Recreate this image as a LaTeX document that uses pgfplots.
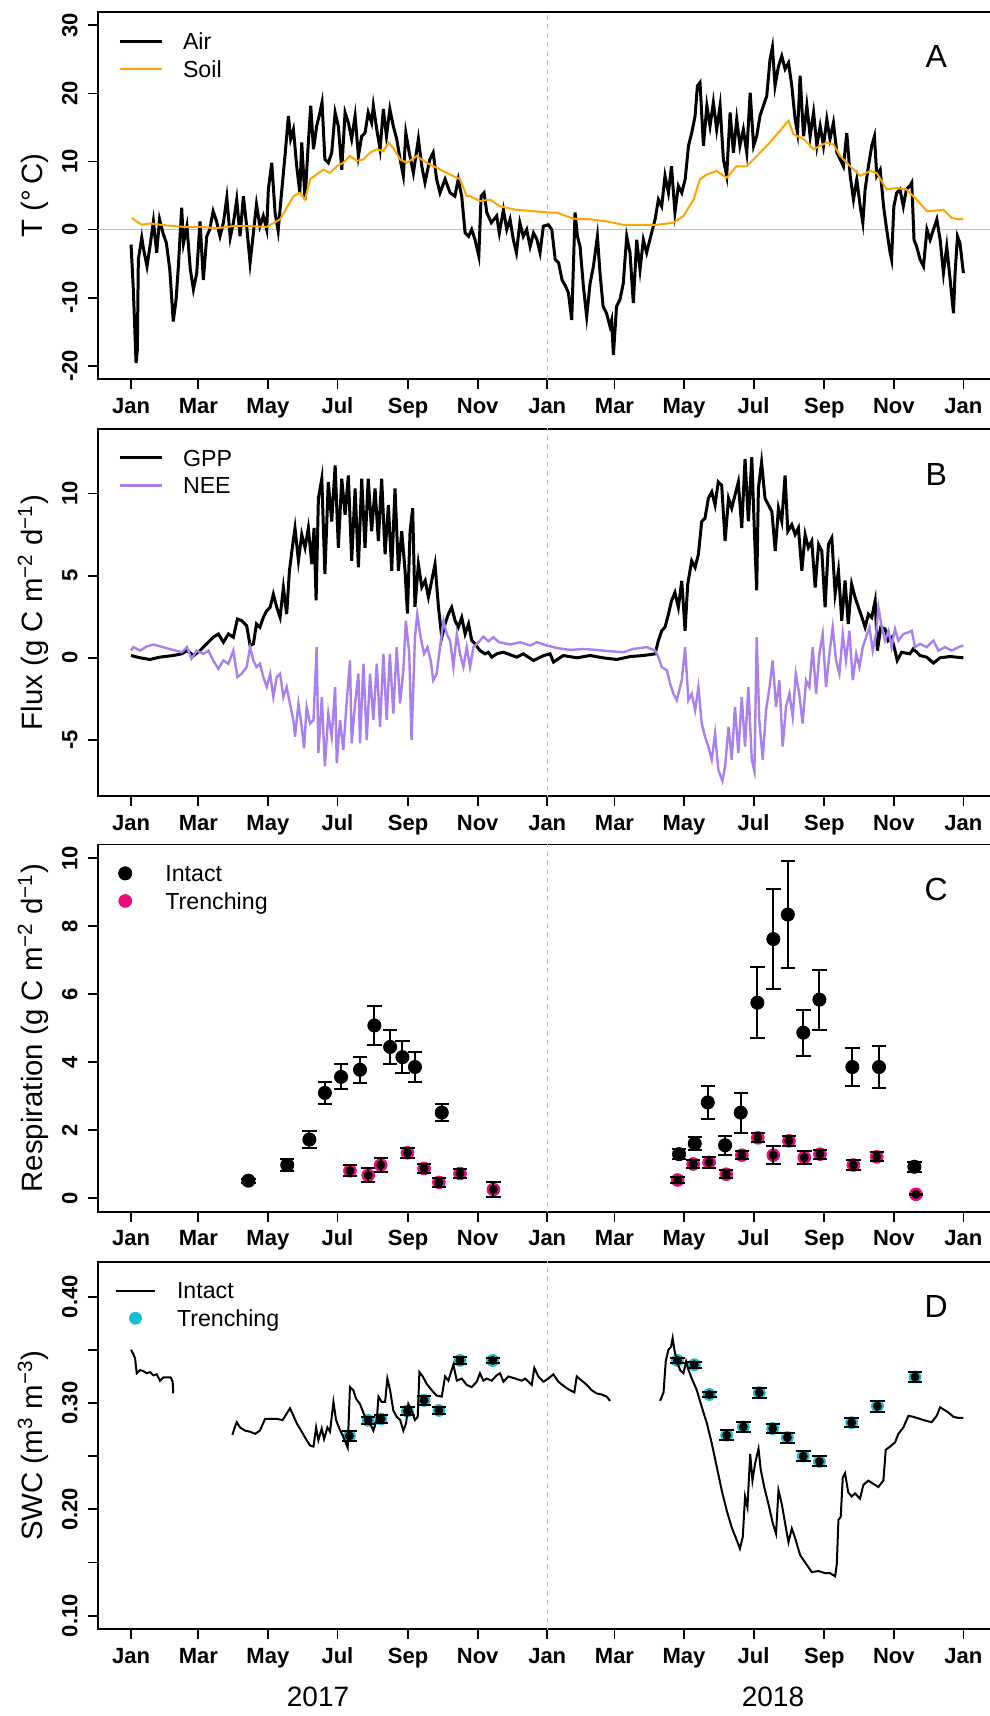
\documentclass[border=0pt]{standalone}
\usepackage{fontspec}
\setmainfont{Liberation Sans}
\usepackage{pgfplots}
\pgfplotsset{compat=1.18}

\definecolor{soilorange}{RGB}{255,165,0}
\definecolor{neepurple}{RGB}{168,128,240}
\definecolor{trpink}{RGB}{232,12,122}
\definecolor{trcyan}{RGB}{23,190,207}
\definecolor{refgrey}{RGB}{190,190,190}

\tikzset{letter/.style={font=\fontsize{16}{18}\selectfont}}

\pgfplotsset{
  panel/.style={
    scale only axis, width=448.85pt, height=183.75pt,
    xmin=-29.16, xmax=758.16,
    clip mode=individual,
    axis line style={line width=0.9pt},
    tick style={black, line width=0.9pt},
    tick align=outside, major tick length=5pt,
    tick pos=left,
    xtick={0,59,120,181,243,304,365,424,485,546,608,669,730},
    xticklabels={Jan,Mar,May,Jul,Sep,Nov,Jan,Mar,May,Jul,Sep,Nov,Jan},
    ticklabel style={font=\fontsize{11}{13}\selectfont\bfseries, inner sep=0pt},
    xticklabel style={anchor=base},
    xticklabel shift=12pt,
    yticklabel style={rotate=90, anchor=base},
    yticklabel shift=5.15pt,
    every axis y label/.style={at={(axis description cs:-0.0616,0.5)}, rotate=90, anchor=base, font=\fontsize{14.7}{17}\selectfont},
    legend cell align=left,
    legend style={at={(rel axis cs:0,1)}, anchor=north west, draw=none, fill=none,
      inner sep=0pt, outer sep=0pt, row sep=5.5pt,
      font=\fontsize{11.6}{13}\selectfont,
      nodes={inner sep=0pt, text height=8.3pt, text depth=0pt}},
  },
  linelegend/.style={legend image code/.code={\draw[##1] (0pt,0pt) -- (21pt,0pt);}},
  dotlegend/.style={legend image code/.code={\draw[##1] plot coordinates {(0pt,0pt)};}},
  shortlinelegend/.style={legend image code/.code={\draw[##1] (0pt,0pt) -- (19.5pt,0pt);}},
  middotlegend/.style={legend image code/.code={\draw[##1] plot coordinates {(9.75pt,0pt)};}},
  errs/.style={only marks, mark=none, forget plot,
    error bars/.cd, y dir=both, y explicit,
    error bar style={black, line width=1pt},
    error mark options={rotate=90, black, line width=1pt, mark size=3.6pt}},
}

\begin{document}
\begin{tikzpicture}
\useasboundingbox (0,0) rectangle (494.5pt,858pt);

% ---------------- A: temperature
\begin{axis}[panel, at={(48.9pt,668.35pt)}, anchor=south west,
  ymin=-22, ymax=32, ytick={-20,-10,0,10,20,30}, yticklabels={-20,-10,0,10,20,30},
  ylabel={T (°\,C)},
  legend style={xshift=10.1pt, yshift=-10.8pt, /tikz/column sep=10pt}]
\addplot[refgrey, line width=0.7pt, forget plot] coordinates {(-40,0) (770,0)};
\addplot[refgrey, line width=0.6pt, dash pattern=on 2.5pt off 2pt, forget plot] coordinates {(365,-30) (365,40)};
\addplot[black, line width=1.5pt, linelegend] coordinates {
(0,-2.2)(2,-8.8)(4.4,-19.6)(5.5,-17.7)(6.4,-4.4)(9.4,-1.2)(11,-2.9)(14,-5.4)(17,-2)(19.6,1.2)(22.5,-3.4)(25,1.5)(28,-0.5)(31,-2)(34,-5.9)(37,-13.5)(39.5,-10.3)(41.5,-5.4)(44.4,3.2)(46,-2)(49,0.5)(52,-5.9)(54.7,-8.8)(57.6,-6.4)(60.5,1.2)(63.4,-7.4)(66.4,-1)(69,0)(72,2.7)(75,1.2)(78,-1)(81,1)(84,4.7)(87,-1.2)(90,1.2)(92.7,4.4)(95.6,-1)(98.5,4.9)(101.4,0.5)(104.4,-4.9)(107.3,-0.5)(110,3.7)(113,0.5)(116,2)(119,0)(120.4,5.9)(123.4,9.8)(126.3,2.5)(129,-0.2)(132,5.4)(135,10.8)(138,16.7)(140,13.3)(142.4,14.7)(145.3,9.3)(148,5.4)(149.7,12.8)(152.6,4.4)(155.5,12.8)(157.6,18.2)(160,11.8)(162.8,15.2)(165,16.7)(167.5,18.7)(170,10.3)(173,9.8)(176,11.3)(179,17.2)(181.8,15.2)(184.8,8.8)(187.7,17.2)(190.6,15.7)(193.5,13.3)(196.5,16.7)(199.4,10.8)(202.3,13.7)(205.2,14.2)(208,17.2)(211,15.7)(212.5,18.2)(215.5,14.7)(218.4,11.8)(221.3,17.7)(224,13.7)(227,17.7)(230,15.2)(233,13.3)(236,10.3)(238.8,7.9)(241,14.2)(244,11.3)(247.6,8.3)(252,13.3)(255,9.3)(257.8,6.9)(262,10.3)(265,11.3)(268,7.4)(271,5.4)(275.4,7.4)(279.8,5.4)(284,4.9)(287,7.4)(290,4.9)(293,-0.5)(296,-1)(298.8,0)(301.7,-1.5)(305,-3.9)(307,4.9)(309.6,5.4)(312,2.5)(316,1)(320.7,2)(323,-0.5)(326.6,2.9)(329.5,0)(332.4,1.5)(335.3,-1.5)(338,-3.4)(341,1)(344,-1)(347,0)(350,-2.5)(353,-0.5)(356,-1.5)(358.7,-3.4)(361.6,0.5)(366,0.7)(369,0)(372,-4.4)(375,-4.9)(378,-7.4)(381,-8.3)(383.6,-9.3)(386.5,-13.3)(389.4,2.5)(391.5,-1)(393.8,-2.5)(396.7,-8.3)(399.6,-12.8)(402.6,-7.9)(405.5,-5.4)(409,-1)(411.3,-6.4)(414,-11.3)(417,-12.3)(420,-14.2)(421.5,-13.3)(423,-18.4)(424,-16)(425.8,-11.3)(428.8,-10.3)(431.7,-7.9)(434.7,-1)(437.6,-3.4)(440.5,-10.8)(443.5,-1.5)(446.4,-5.9)(449.3,-1.5)(452.2,-3.4)(455,-1.5)(459.6,1.5)(462.5,4.4)(465.4,3.4)(468.3,7.9)(471.3,5.4)(474,9.3)(477,2.5)(480,6.4)(483,5.4)(486,7.4)(488.9,12.3)(491.7,14.2)(494.7,16.7)(496.7,21.1)(499,21.6)(502,12.3)(505,18.2)(507.8,15.2)(510.7,18.7)(513.6,14.7)(516.6,18.2)(519.5,10.3)(522.4,7.9)(525.4,17.2)(528.3,11.3)(531.2,16.2)(534,12.3)(537,14.7)(540,11.3)(543,20.1)(546,12.3)(548.7,13.7)(551.6,16.7)(554.6,18.2)(557.5,19.6)(560.4,25)(562.5,26.8)(564.8,21.1)(567.8,24)(570.7,25.5)(573.6,23.6)(576.6,24.5)(579.5,21.1)(582.4,16.2)(584.5,14.2)(586.8,22.6)(589.8,13.7)(592.7,18.2)(595.6,13.7)(598.6,17.2)(601.5,12.3)(604.4,15.2)(607.3,12.3)(610.2,16.2)(613,13.3)(616,15.7)(619,11.3)(622,10.3)(624.8,9.3)(627.7,14.2)(630.7,7.9)(633.6,4.4)(636.5,7.4)(639.5,3.4)(641.8,1)(643.8,5.9)(646.7,9.3)(649.6,12.3)(652,13.7)(654,7.9)(657,8.8)(660,3.4)(662.7,0)(665.7,-3.4)(667,-4.4)(669,3.4)(671.5,5.4)(674.4,5.9)(677.3,3.4)(680,5.9)(683,6.4)(684.7,6.9)(686.7,-1.5)(689,-2.5)(692,-4.4)(695,-5.4)(698,0)(700.8,-1.5)(703.7,0)(706.7,1.5)(709.6,-1.5)(712.5,-6.4)(715.4,-2.5)(718.4,-7.4)(721.3,-12.3)(722.7,-6.4)(724.8,-1)(727,-2)(730,-6.4)
};
\addlegendentry{Air}
\addplot[soilorange, line width=1pt, linelegend] coordinates {
(0.6,1.7)(5,1.2)(9.4,0.7)(16.7,0.9)(31,0.6)(46,0.4)(60.5,0.4)(75,0.2)(90,0.5)(104,0.5)(119,0.4)(130.7,1.5)(136.5,3.2)(142.4,4.9)(148,5.4)(152.6,4.4)(157,7.4)(162.8,8.1)(168.7,8.8)(174.5,8.3)(180.4,9.3)(186,9.8)(192,10.8)(198,10.1)(203.8,10.3)(209.6,11.3)(215.5,11.8)(221.3,11.5)(225.7,12.8)(230,12)(236,10.3)(241.8,9.8)(250.5,10.8)(259.3,9.8)(268,9.1)(276.9,8.3)(288.5,7.4)(294.4,4.9)(297.3,4.9)(306,4.2)(315,4.4)(323.6,3.4)(338,2.9)(353,2.7)(367.5,2.5)(373,2.5)(388,1.6)(402.6,1.5)(417,1.2)(431.7,0.7)(446.4,0.7)(461,0.7)(475.7,1)(484.5,2)(493.3,4.4)(499,7.4)(505,8.1)(513.6,8.6)(522.4,7.6)(531,9.3)(540,9.3)(546,10.3)(551.6,11.3)(560.4,12.8)(569,14.5)(576.6,16)(581,14)(589.8,13.3)(598.6,11.8)(604.4,12.3)(610,12.8)(616,12.5)(622,10.8)(630.7,9.3)(639.5,7.9)(648.2,8.6)(654,8.3)(662.7,5.9)(671.5,6.1)(680,5.9)(689,4.4)(698,2.7)(706.7,2.8)(712.5,2.9)(719.9,1.7)(725.7,1.5)(730,1.6)
};
\addlegendentry{Soil}
\node[letter] at (rel axis cs:0.934,0.877) {A};
\end{axis}

% ---------------- B: fluxes
\begin{axis}[panel, at={(48.9pt,459.8pt)}, anchor=south west,
  ymin=-8.43, ymax=13.93, ytick={-5,0,5,10}, yticklabels={-5,0,5,10},
  ylabel={Flux (g C m\textsuperscript{−2} d\textsuperscript{−1})},
  legend style={xshift=10.1pt, yshift=-10.3pt, /tikz/column sep=10pt}]
\addplot[refgrey, line width=0.6pt, dash pattern=on 2.5pt off 2pt, forget plot] coordinates {(365,-30) (365,40)};
\addplot[black, line width=1.5pt, linelegend] coordinates {
(0,0.14)(8,0)(16.7,-0.1)(25,0.04)(37,0.14)(44.4,0.24)(49,0.44)(55,0.14)(60.5,0.44)(66.4,0.85)(72,1.25)(76.6,1.45)(81,0.95)(85.4,1.45)(89.7,1.25)(93.3,2.36)(97,2.26)(101.4,1.96)(104.4,0.75)(107.3,0.85)(110,2.06)(113,1.86)(116,2.46)(119,2.87)(122,3.07)(124.8,3.87)(127.8,3.07)(130.7,2.46)(133.6,4.28)(136.5,2.66)(138.9,5.29)(141.8,6.9)(143.8,7.9)(146.8,5.9)(149.7,7.5)(152.6,6.7)(155.5,7.9)(158.5,5.7)(160.5,7.9)(162.3,3.5)(164.3,9.7)(167.3,10.9)(170,5.1)(173,10.7)(176,8.3)(179,11.7)(181.8,6.7)(184.8,10.9)(187.7,8.7)(190.6,11.1)(193.5,5.9)(196.5,10.3)(199.4,5.5)(202.3,10.9)(205.2,6.7)(208,10.9)(211,7.7)(214,10.3)(216.9,7.1)(219.8,10.9)(222.8,6.3)(225.7,9.3)(228.6,5.3)(231.5,10.3)(234.5,5.3)(237.4,7.7)(240.3,5.3)(242.4,2.7)(244.7,7.7)(247,9.1)(249,3.1)(252,5.7)(255,4.3)(258,4.7)(260.8,3.7)(263.7,4.7)(266.6,5.7)(269.6,3.1)(272.5,1.25)(275.4,2.06)(278.3,2.66)(281.2,3.07)(284.2,2.26)(287,1.86)(290,2.46)(293,1.45)(296,2.06)(298.8,1.05)(301.7,0.85)(306,0.44)(310.5,0.24)(313.4,0.34)(316.3,0.04)(320.7,0.24)(322.7,0.28)(326.6,0.34)(338.3,0.04)(344,0.24)(353,-0.16)(362,0.14)(367.5,0.24)(370.5,-0.26)(379,0.14)(391,0)(402.6,0.14)(414,0)(426,-0.1)(438,0.08)(449.3,0.14)(459.6,0.24)(462.5,1.05)(465.4,1.65)(468.3,1.86)(471.3,2.66)(474,3.47)(477,3.97)(480,3.07)(483,4.68)(485.9,1.65)(488.2,4.48)(491.7,5.9)(494.7,5.5)(497.6,6.3)(500.5,8.3)(503.4,8.5)(506.3,9.7)(509.3,10.1)(512.2,9.3)(515,10.7)(518,10.5)(521,7.1)(524,9.7)(526.8,9.1)(529.7,9.9)(532.6,10.7)(535.6,7.9)(538.5,12.1)(541.4,8.3)(544.4,12.2)(546.7,7.7)(548.7,4.1)(550.2,10.3)(553,11.9)(556,9.7)(559,9.3)(562,8.9)(565,6.5)(567.8,9.1)(570.7,8.3)(573.6,11.1)(576,7.7)(579.5,8.1)(582.4,7.5)(585.3,7.9)(588.3,5.3)(591.2,7.5)(594,6.7)(597,7.1)(600,4.28)(603,6.9)(605.8,6.5)(608.7,3.07)(611.6,6.9)(614.6,7.3)(617.5,3.9)(620.4,5.3)(623.3,2.26)(626.2,4.7)(629,2.06)(632,4.48)(635,3.67)(638,3.07)(641,2.46)(643.8,1.86)(646.7,2.66)(649.6,2.46)(652.6,3.47)(654.6,0.44)(657.5,1.86)(661.3,1.76)(664,1.05)(667,1.25)(670,0.44)(672,-0.16)(675.8,0.34)(683,0.24)(686,0.54)(692,0.14)(697.8,0.04)(703.7,-0.32)(709.5,0)(718.3,0.08)(730,0)
};
\addlegendentry{GPP}
\addplot[neepurple, line width=1.2pt, linelegend] coordinates {
(0,0.44)(2,0.65)(8,0.44)(13.7,0.69)(19.6,0.81)(28,0.65)(37,0.48)(44.4,0.34)(49,0.65)(53,-0.06)(57.6,0.44)(63.4,0.24)(67.8,0.44)(72,-0.16)(76.6,-0.67)(81,-0.16)(85.4,-0.36)(89.7,0.44)(93.3,-1.17)(97,-0.97)(101.4,-0.56)(104.4,0.65)(107.3,-0.16)(110,-0.56)(113,-0.36)(116,-1.17)(119,-1.78)(122,-0.97)(124.8,-2.38)(127.8,-1.17)(130.7,-0.97)(133.6,-2.38)(136.5,-1.78)(139.3,-2.78)(142.4,-3.79)(143.8,-4.8)(146.8,-2.78)(149.7,-4.2)(151.7,-5.5)(154,-2.99)(157,-4)(160,-3.79)(162.8,0.65)(164.3,-5.8)(167.3,-2.38)(170,-6.6)(173,-3.39)(176,-4.8)(179,-1.78)(180.4,-6.4)(183.3,-3.79)(186.2,-5.6)(189,-2.78)(192,-0.16)(193.5,-5.2)(196.5,-2.78)(199.4,-0.97)(200.8,-5.2)(203.8,-0.36)(206.7,-5)(209.6,-0.97)(212.5,-3.79)(215.5,-0.36)(218.4,-4.2)(221.3,0.24)(224.2,-3.79)(227,0.24)(230,-3.39)(233,0.65)(235.9,-2.78)(238.8,-0.77)(241,2.26)(244,0.24)(246,-5)(249,1.25)(251,2.66)(254,1.25)(257,0.24)(260,0.65)(262.8,-0.16)(265,-1.37)(268,-0.97)(271,0.65)(274,2.26)(276.9,1.45)(279.8,1.05)(282.7,-0.56)(285.7,1.45)(288.5,0.24)(291.5,-0.56)(294.4,0.65)(297.3,-0.56)(300.3,0.65)(304.7,0.95)(309,1.29)(313.4,1.01)(317.8,1.25)(322.7,0.95)(332.5,0.81)(341.3,0.95)(350,0.75)(356,0.95)(364.6,0.75)(373.3,0.6)(385,0.48)(396.7,0.54)(408.4,0.48)(420,0.4)(431.7,0.34)(440.5,0.54)(452.3,0.65)(459.6,0.44)(462.5,0.04)(465.4,-0.56)(470,-0.77)(472.8,-1.57)(475.6,-2.18)(478.6,-2.58)(483,-1.37)(485.9,0.65)(488.8,-2.58)(491.7,-2.18)(494.7,-3.19)(497.6,-1.78)(500.5,-4)(503.4,-4.8)(506.3,-5.4)(509.3,-6.2)(512.2,-4.6)(515,-6.8)(518.6,-7.5)(521,-6.6)(524,-4.2)(526.8,-6.2)(529.7,-2.99)(532.6,-5.8)(535.6,-2.38)(538.5,-5.4)(541.4,-1.78)(544.4,-6.2)(546.7,-6.9)(548.7,1.25)(551,-3.79)(554,-6.2)(556.9,-3.19)(560,-1.78)(562.7,-0.16)(565.7,-2.99)(568.6,-1.37)(571.5,-5.4)(574.4,-2.99)(577.4,-2.18)(580.3,-3.6)(583,-0.97)(586,-2.18)(589,-4)(592,-1.37)(594.9,-1.78)(597.8,0.65)(600.8,-2.18)(603.7,0.24)(606.6,1.45)(609.5,-1.78)(612.5,0.24)(615.4,1.86)(618.3,-0.16)(621.2,-0.97)(624.2,1.45)(627,-0.16)(630,1.65)(633,-1.37)(636,0.24)(638.8,-0.56)(641.7,0.65)(644.6,1.25)(647.6,1.86)(650.5,0.44)(653.4,1.45)(655.5,3.07)(658.4,1.86)(661.3,1.05)(664.3,1.65)(667,0.65)(670,1.76)(673,1.05)(677.3,1.45)(681.7,1.55)(684.7,1.65)(687.6,0.65)(692,0.85)(697.8,0.65)(703.7,1.05)(708,0.44)(714,0.65)(719.8,0.44)(725.7,0.65)(730,0.75)
};
\addlegendentry{NEE}
\node[letter] at (rel axis cs:0.934,0.877) {B};
\end{axis}

% ---------------- C: respiration
\begin{axis}[panel, at={(48.9pt,252pt)}, anchor=south west,
  ymin=-0.4, ymax=10.4, ytick={0,2,4,6,8,10}, yticklabels={0,2,4,6,8,10},
  ylabel={Respiration (g C m\textsuperscript{−2} d\textsuperscript{−1})},
  legend style={xshift=10.4pt, yshift=-10.3pt, /tikz/column sep=16.8pt}]
\addplot[refgrey, line width=0.6pt, dash pattern=on 2.5pt off 2pt, forget plot] coordinates {(365,-5) (365,20)};
\addplot[only marks, mark=*, mark size=3.3pt, black, dotlegend] coordinates {
(102.9,0.52)(137,0.98)(156.4,1.73)(170,3.10)(184.2,3.57)(200.8,3.78)(213.4,5.08)(227.2,4.45)(238,4.15)(249,3.86)(272.5,2.52)
(480.6,1.30)(494.4,1.61)(505.8,2.82)(521,1.56)(534.7,2.52)(549.3,5.75)(563.3,7.62)(576,8.34)(589.6,4.87)(603.7,5.84)(632.6,3.86)(656,3.86)(687,0.93)
};
\addlegendentry{Intact}
\addplot[only marks, mark=*, mark size=3.2pt, trpink, dotlegend] coordinates {
(192,0.81)(208,0.68)(219,0.98)(242.4,1.34)(257,0.88)(270,0.47)(288.5,0.73)(317.8,0.26)
(479.4,0.54)(493,1.01)(507,1.06)(522,0.71)(535.7,1.27)(549.7,1.78)(563.3,1.27)(577,1.69)(590.5,1.20)(604.2,1.30)(633.5,0.98)(654,1.22)(688.4,0.12)
};
\addlegendentry{Trenching}
\addplot[errs] coordinates {
(102.9,0.52) +- (0,0.06) (137,0.98) +- (0,0.17) (156.4,1.73) +- (0,0.25) (170,3.10) +- (0,0.32)
(184.2,3.57) +- (0,0.37) (200.8,3.78) +- (0,0.38) (213.4,5.08) +- (0,0.57) (227.2,4.45) +- (0,0.51)
(238,4.15) +- (0,0.47) (249,3.86) +- (0,0.44) (272.5,2.52) +- (0,0.24)
(480.6,1.30) +- (0,0.15) (494.4,1.61) +- (0,0.20) (505.8,2.82) +- (0,0.49) (521,1.56) +- (0,0.28)
(534.7,2.52) +- (0,0.59) (549.3,5.75) +- (0,1.05) (563.3,7.62) +- (0,1.46) (576,8.34) +- (0,1.57)
(589.6,4.87) +- (0,0.68) (603.7,5.84) +- (0,0.88) (632.6,3.86) +- (0,0.57) (656,3.86) +- (0,0.63)
(687,0.93) +- (0,0.15)
};
\addplot[errs] coordinates {
(192,0.81) +- (0,0.16) (208,0.68) +- (0,0.21) (219,0.98) +- (0,0.21) (242.4,1.34) +- (0,0.15)
(257,0.88) +- (0,0.14) (270,0.47) +- (0,0.13) (288.5,0.73) +- (0,0.13) (317.8,0.26) +- (0,0.22)
(479.4,0.54) +- (0,0.09) (493,1.01) +- (0,0.12) (507,1.06) +- (0,0.17) (522,0.71) +- (0,0.11)
(535.7,1.27) +- (0,0.12) (549.7,1.78) +- (0,0.13) (563.3,1.27) +- (0,0.26) (577,1.69) +- (0,0.15)
(590.5,1.20) +- (0,0.19) (604.2,1.30) +- (0,0.13) (633.5,0.98) +- (0,0.14) (654,1.22) +- (0,0.13)
(688.4,0.12) +- (0,0.02)
};
\node[letter] at (rel axis cs:0.934,0.877) {C};
\end{axis}

% ---------------- D: soil water content
\begin{axis}[panel, at={(48.9pt,43.35pt)}, anchor=south west,
  ymin=0.0872, ymax=0.4328, ytick={0.10,0.15,0.20,0.25,0.30,0.35,0.40}, yticklabels={0.10,,0.20,,0.30,,0.40},
  ylabel={SWC (m\textsuperscript{3} m\textsuperscript{−3})},
  legend style={xshift=8.6pt, yshift=-10.3pt, /tikz/column sep=10.5pt}]
\addplot[refgrey, line width=0.6pt, dash pattern=on 2.5pt off 2pt, forget plot] coordinates {(365,0) (365,1)};
\addplot[black, line width=1pt, shortlinelegend] coordinates {
(0,0.350)(2,0.346)(3.5,0.342)(5,0.328)(8,0.331)(10.8,0.330)(13.7,0.328)(16.7,0.329)(19.6,0.326)(22.5,0.327)(25.4,0.321)(28.4,0.324)(31.3,0.324)(34.8,0.324)(36.5,0.320)(37,0.309)
};
\addlegendentry{Intact}
\addplot[only marks, mark=*, mark size=3pt, trcyan, middotlegend] coordinates {
(191.5,0.269)(208,0.2837)(219.3,0.285)(242.4,0.2925)(257,0.3025)(270,0.293)(288.5,0.340)(317.2,0.340)
(479.2,0.340)(494,0.336)(507.2,0.308)(522.4,0.2697)(537,0.2775)(551,0.3097)(562.8,0.276)(575.6,0.2675)(589.6,0.250)(603.7,0.245)(632,0.2815)(654.6,0.297)(687.6,0.3245)
};
\addlegendentry{Trenching}
\addplot[black, line width=1pt, forget plot] coordinates {
(88.9,0.270)(90.6,0.276)(92.7,0.282)(95.6,0.277)(100,0.274)(104.4,0.273)(108.8,0.271)(113,0.274)(117.5,0.285)(122,0.285)(127.8,0.285)(133,0.284)(136.5,0.290)(139.4,0.295)(142.4,0.288)(145.3,0.281)(149.7,0.273)(154,0.265)(157,0.260)(160,0.259)(162.3,0.277)(164.3,0.265)(167.2,0.276)(169.3,0.266)(172.2,0.277)(174.5,0.273)(177.5,0.301)(179.8,0.284)(182.7,0.276)(186.2,0.268)(190,0.258)(192,0.315)(195,0.312)(197.3,0.304)(200.8,0.299)(205.2,0.287)(209.6,0.281)(212.5,0.274)(215.5,0.284)(217,0.306)(219.8,0.301)(222.8,0.301)(224.8,0.323)(227.2,0.312)(230,0.293)(233,0.287)(236,0.284)(238.8,0.274)(241.2,0.281)(243.2,0.299)(246,0.293)(249,0.284)(251.4,0.287)(252.9,0.329)(255.8,0.325)(259.3,0.318)(263.7,0.312)(268,0.307)(272.5,0.306)(275.4,0.325)(278.3,0.321)(281.2,0.331)(282.7,0.336)(285.7,0.321)(290,0.323)(294.4,0.317)(298.8,0.315)(303.2,0.320)(306,0.328)(309,0.321)(312,0.323)(316.3,0.321)(320.7,0.326)(323.6,0.328)(326.6,0.320)(331,0.325)(336.8,0.323)(342.7,0.321)(345.6,0.323)(351.4,0.317)(353.7,0.333)(357.2,0.325)(361.6,0.320)(366,0.323)(370.4,0.327)(374.8,0.320)(380.6,0.315)(385,0.312)(388.8,0.310)(390.9,0.325)(395.3,0.321)(399.7,0.317)(404,0.312)(408.4,0.309)(412.8,0.308)(417.2,0.306)(420.1,0.302)
};
\addplot[black, line width=1pt, forget plot] coordinates {
(464,0.302)(467,0.310)(469,0.340)(471.3,0.350)(473.6,0.353)(475,0.361)(476.5,0.350)(478.6,0.340)(481.5,0.331)(484.5,0.328)(486.8,0.339)(488.9,0.331)(491.8,0.323)(496.2,0.312)(500.6,0.296)(505,0.281)(509.3,0.262)(513.7,0.240)(518,0.218)(522.4,0.199)(526.8,0.183)(531.2,0.171)(534,0.163)(536.5,0.174)(538.5,0.212)(540.6,0.202)(543,0.252)(545,0.227)(547.3,0.243)(550.3,0.257)(552.3,0.237)(555.3,0.221)(559,0.205)(562.8,0.187)(565.7,0.177)(567.8,0.218)(570.7,0.205)(573.6,0.187)(576.6,0.169)(579.5,0.182)(582.4,0.173)(586.8,0.157)(591.2,0.150)(597,0.141)(602.8,0.142)(608.7,0.140)(613,0.140)(617.5,0.137)(619,0.149)(620.4,0.190)(622.4,0.193)(624.2,0.230)(626.2,0.234)(629,0.216)(632,0.212)(635,0.215)(639.3,0.210)(642.3,0.223)(646.6,0.227)(651,0.224)(655.4,0.221)(659.8,0.227)(661.9,0.256)(665.7,0.259)(670,0.263)(673,0.271)(677.3,0.277)(681.8,0.288)(686,0.287)(692,0.285)(698,0.283)(702.2,0.282)(706.6,0.288)(709.6,0.296)(712.5,0.294)(716.9,0.291)(721.3,0.287)(725.7,0.286)(730,0.286)
};
\addplot[errs] coordinates {
(191.5,0.269) +- (0,0.0047) (208,0.2837) +- (0,0.003) (219.3,0.285) +- (0,0.004) (242.4,0.2925) +- (0,0.004)
(257,0.3025) +- (0,0.004) (270,0.293) +- (0,0.0035) (288.5,0.340) +- (0,0.0035) (317.2,0.340) +- (0,0.002)
(479.2,0.340) +- (0,0.002) (494,0.336) +- (0,0.003) (507.2,0.308) +- (0,0.002) (522.4,0.2697) +- (0,0.0047)
(537,0.2775) +- (0,0.0045) (551,0.3097) +- (0,0.0047) (562.8,0.276) +- (0,0.0045) (575.6,0.2675) +- (0,0.0047)
(589.6,0.250) +- (0,0.0047) (603.7,0.245) +- (0,0.0047) (632,0.2815) +- (0,0.004) (654.6,0.297) +- (0,0.005)
(687.6,0.3245) +- (0,0.0045)
};
\node[letter] at (rel axis cs:0.934,0.877) {D};
\node[font=\fontsize{14}{16}\selectfont, anchor=base, yshift=-38.7pt] at (axis cs:164,0.0872) {2017};
\node[font=\fontsize{14}{16}\selectfont, anchor=base, yshift=-38.7pt] at (axis cs:563,0.0872) {2018};
\end{axis}
\end{tikzpicture}
\end{document}
